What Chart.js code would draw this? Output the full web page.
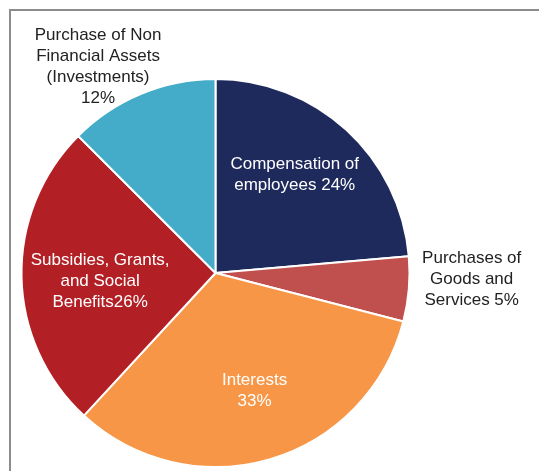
<!DOCTYPE html>
<html>
<head>
<meta charset="utf-8">
<script src="https://cdn.jsdelivr.net/npm/chart.js@4"></script>
<style>
  html, body { margin: 0; padding: 0; background: #fff; }
  #wrap { position: relative; width: 539px; height: 471px; overflow: hidden; }
  #frame { position: absolute; left: 9px; top: 9px; width: 600px; height: 600px; border-left: 2px solid #8c8c8c; border-top: 2px solid #8c8c8c; }
  canvas { position: absolute; left: 0; top: 0; }
</style>
</head>
<body>
<div id="wrap">
  <div id="frame"></div>
  <canvas id="pie" width="539" height="471"></canvas>
</div>
<script>
const categories = ['Compensation of employees', 'Purchases of Goods and Services', 'Interests', 'Subsidies, Grants, and Social Benefits', 'Purchase of Non Financial Assets (Investments)'];
const shares = [23.6, 5.4, 32.8, 25.6, 12.5];
const labelLines = [
  ['Compensation of', 'employees 24%'],
  ['Purchases of', 'Goods and', 'Services 5%'],
  ['Interests', '33%'],
  ['Subsidies, Grants,', 'and Social', 'Benefits26%'],
  ['Purchase of Non', 'Financial Assets', '(Investments)', '12%']
];
const colors = ['#1f2a5c', '#c0504d', '#f79646', '#b21f24', '#44abc8'];

// label placement: fraction of radius along the slice middle, plus a nudge
const labelPlace = [
  { frac: 0.65, dx: -6, dy: -5, color: '#fff' },
  { frac: 1.32, dx: 1, dy: -15, color: '#222' },
  { frac: 0.64, dx: 4, dy: -1, color: '#fff' },
  { frac: 0.60, dx: 1, dy: 6, color: '#fff' },
  { frac: 1.15, dx: -32, dy: 0, color: '#222' }
];

const sliceLabels = {
  id: 'sliceLabels',
  afterDatasetsDraw(chart) {
    const ctx = chart.ctx;
    const arcs = chart.getDatasetMeta(0).data;
    ctx.save();
    ctx.font = '17px "Liberation Sans", Arial, sans-serif';
    ctx.textAlign = 'center';
    ctx.textBaseline = 'middle';
    const lh = 21;
    arcs.forEach((arc, i) => {
      const p = arc.getProps(['x', 'y', 'startAngle', 'endAngle', 'outerRadius'], true);
      const mid = (p.startAngle + p.endAngle) / 2;
      const r = p.outerRadius * labelPlace[i].frac;
      const cx = p.x + Math.cos(mid) * r + labelPlace[i].dx;
      const cy = p.y + Math.sin(mid) * r + labelPlace[i].dy;
      const lines = labelLines[i];
      ctx.fillStyle = labelPlace[i].color;
      lines.forEach((t, k) => {
        ctx.fillText(t, cx, cy + (k - (lines.length - 1) / 2) * lh);
      });
    });
    ctx.restore();
  }
};

new Chart(document.getElementById('pie'), {
  type: 'pie',
  data: {
    labels: categories,
    datasets: [{
      data: shares,
      backgroundColor: colors,
      borderColor: '#ffffff',
      borderWidth: 2
    }]
  },
  options: {
    responsive: false,
    animation: false,
    layout: { padding: { left: 20.5, right: 128.5, top: 78, bottom: 3 } },
    plugins: { legend: { display: false }, tooltip: { enabled: false } }
  },
  plugins: [sliceLabels]
});
</script>
</body>
</html>
